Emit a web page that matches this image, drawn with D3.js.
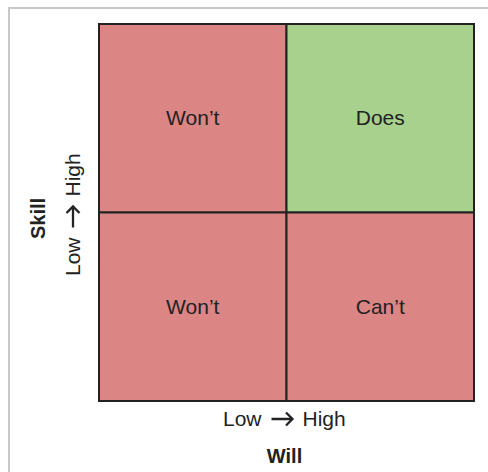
<!DOCTYPE html>
<html>
<head>
<meta charset="utf-8">
<script src="https://cdnjs.cloudflare.com/ajax/libs/d3/7.8.5/d3.min.js"></script>
<style>
  html, body { margin: 0; padding: 0; background: #fff; }
  text { font-family: "Liberation Sans", Arial, Helvetica, sans-serif; fill: #222; }
</style>
</head>
<body>
<div id="chart"></div>
<script>
// quadrant data
var willLevels = ["Low", "High"]
var skillLevels = ["High", "Low"]   // top to bottom
var quadWill  = ["Low", "High", "Low", "High"]
var quadSkill = ["High", "High", "Low", "Low"]
var quadLabel = ["Won\u2019t", "Does", "Won\u2019t", "Can\u2019t"]
var quadColor = ["#db8585", "#a8d18d", "#db8585", "#db8585"]

var axisLow = "Low", axisHigh = "High"
var xTitle = "Will"
var yTitle = "Skill"

var width = 488, height = 472
var margin = {top: 24, right: 14, bottom: 71, left: 99}

var svg = d3.select("#chart").append("svg")
    .attr("width", width)
    .attr("height", height)

// light frame, top and left only
svg.append("line")
    .attr("x1", 9).attr("x2", width).attr("y1", 8).attr("y2", 8)
    .attr("stroke", "#c8c8ca").attr("stroke-width", 2)
svg.append("line")
    .attr("x1", 9).attr("x2", 9).attr("y1", 7).attr("y2", height)
    .attr("stroke", "#c8c8ca").attr("stroke-width", 2)

var x = d3.scaleBand()
    .domain(willLevels)
    .range([margin.left, width - margin.right])
var y = d3.scaleBand()
    .domain(skillLevels)
    .range([margin.top, height - margin.bottom])

var quads = quadLabel.map((d, i) => ({
    will: quadWill[i], skill: quadSkill[i], label: d, color: quadColor[i]
}))

var g = svg.append("g")

g.selectAll("rect")
    .data(quads)
    .enter()
    .append("rect")
    .attr("x", d => x(d.will))
    .attr("y", d => y(d.skill))
    .attr("width", x.bandwidth())
    .attr("height", y.bandwidth())
    .attr("fill", d => d.color)
    .attr("stroke", "#222")
    .attr("stroke-width", 2)

g.selectAll("text.quad")
    .data(quads)
    .enter()
    .append("text")
    .attr("class", "quad")
    .attr("x", d => x(d.will) + x.bandwidth() / 2)
    .attr("y", d => y(d.skill) + y.bandwidth() / 2 + 7)
    .attr("text-anchor", "middle")
    .attr("font-size", 21)
    .text(d => d.label)

var cx = (x.range()[0] + x.range()[1]) / 2
var cy = (y.range()[0] + y.range()[1]) / 2

// "Low -> High" : two words with a drawn open arrow between them
function lowHigh(sel) {
    sel.append("text")
        .attr("x", -21).attr("y", 7)
        .attr("text-anchor", "end")
        .attr("font-size", 21)
        .text(axisLow)
    sel.append("path")
        .attr("d", "M-11,0H10M3.5,-6.5L10,0L3.5,6.5")
        .attr("fill", "none")
        .attr("stroke", "#222")
        .attr("stroke-width", 2.3)
    sel.append("text")
        .attr("x", 20).attr("y", 7)
        .attr("text-anchor", "start")
        .attr("font-size", 21)
        .text(axisHigh)
}

svg.append("g")
    .attr("transform", `translate(${cx - 4},419)`)
    .call(lowHigh)

svg.append("text")
    .attr("x", cx - 2)
    .attr("y", 463)
    .attr("text-anchor", "middle")
    .attr("font-size", 20)
    .attr("font-weight", "bold")
    .text(xTitle)

svg.append("g")
    .attr("transform", `translate(73,${cy + 4}) rotate(-90)`)
    .call(lowHigh)

svg.append("text")
    .attr("transform", `translate(45,${cy + 6}) rotate(-90)`)
    .attr("text-anchor", "middle")
    .attr("font-size", 20)
    .attr("font-weight", "bold")
    .text(yTitle)
</script>
</body>
</html>
